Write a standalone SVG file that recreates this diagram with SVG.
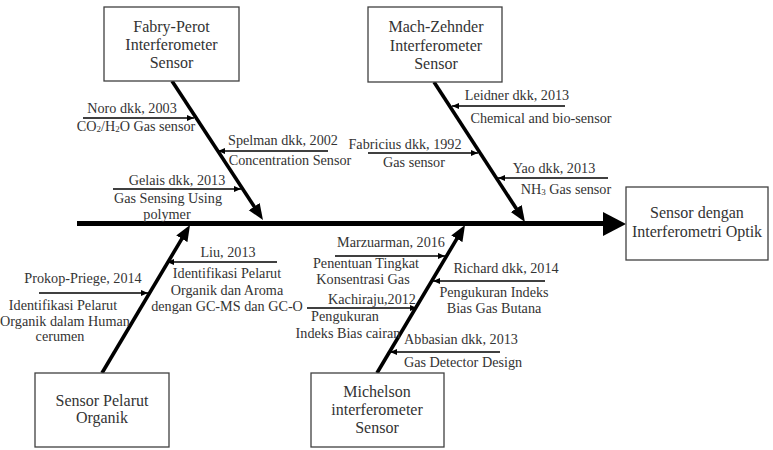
<svg xmlns="http://www.w3.org/2000/svg" width="773" height="450" viewBox="0 0 773 450">
<style>
.box{fill:#fff;stroke:#404040;stroke-width:1.3}
.bt{font-family:"Liberation Serif","Times New Roman",serif;font-size:16px;fill:#333;text-anchor:middle}
.t{font-family:"Liberation Serif","Times New Roman",serif;font-size:14.2px;fill:#333;text-anchor:middle}
.bone{stroke:#000;stroke-width:3.6;fill:none;marker-end:url(#big)}
.sm{stroke:#000;stroke-width:1.3;fill:none;marker-end:url(#small)}
</style>
<defs>
<marker id="big" markerUnits="userSpaceOnUse" markerWidth="17" markerHeight="14" refX="6" refY="6.5" orient="auto" viewBox="0 0 17 13">
<path d="M0,0 L16,6.5 L0,13 z" fill="#000"/>
</marker>
<marker id="small" markerUnits="userSpaceOnUse" markerWidth="8" markerHeight="7" refX="7" refY="3" orient="auto" viewBox="0 0 8 6">
<path d="M0,0 L7,3 L0,6 z" fill="#000"/>
</marker>
</defs>

<g id="connectors">
<line x1="77" y1="223.5" x2="605" y2="223.5" stroke="#000" stroke-width="5"/>
<polygon points="603,212 626,224 603,236" fill="#000"/>
<line class="bone" x1="172" y1="81" x2="257.5" y2="211.6"/>
<line class="bone" x1="434" y1="82" x2="519.5" y2="213.6"/>
<line class="bone" x1="102" y1="373" x2="184.9" y2="233.6"/>
<line class="bone" x1="377" y1="373" x2="459.9" y2="233.6"/>
<line class="sm" x1="83" y1="118" x2="194" y2="118"/>
<line class="sm" x1="328" y1="151" x2="218" y2="151"/>
<line class="sm" x1="113" y1="189" x2="241" y2="189"/>
<line class="sm" x1="565" y1="106" x2="452" y2="106"/>
<line class="sm" x1="368" y1="153" x2="478" y2="153"/>
<line class="sm" x1="608" y1="178" x2="498" y2="178"/>
<line class="sm" x1="277" y1="262" x2="167" y2="262"/>
<line class="sm" x1="39" y1="293" x2="148" y2="293"/>
<line class="sm" x1="335" y1="256" x2="445" y2="256"/>
<line class="sm" x1="545" y1="281" x2="433" y2="281"/>
<line class="sm" x1="307" y1="308" x2="417" y2="308"/>
<line class="sm" x1="500" y1="352" x2="390" y2="352"/>
</g>

<g id="fabry-perot">
<rect class="box" x="104" y="7" width="135" height="74"/>
<text class="bt" x="171.5" y="32">Fabry-Perot</text>
<text class="bt" x="171.5" y="50">Interferometer</text>
<text class="bt" x="171.5" y="68">Sensor</text>
</g>
<g id="mach-zehnder">
<rect class="box" x="368" y="7" width="134" height="75"/>
<text class="bt" x="436" y="32">Mach-Zehnder</text>
<text class="bt" x="436" y="51">Interferometer</text>
<text class="bt" x="436" y="69">Sensor</text>
</g>
<g id="sensor-pelarut">
<rect class="box" x="35" y="373" width="134" height="74"/>
<text class="bt" x="102" y="406">Sensor Pelarut</text>
<text class="bt" x="102" y="423">Organik</text>
</g>
<g id="michelson">
<rect class="box" x="311" y="373" width="133" height="74"/>
<text class="bt" x="377" y="397">Michelson</text>
<text class="bt" x="377" y="415">interferometer</text>
<text class="bt" x="377" y="433">Sensor</text>
</g>
<g id="sensor-optik">
<rect class="box" x="626" y="187" width="142" height="73"/>
<text class="bt" x="697" y="218">Sensor dengan</text>
<text class="bt" x="697" y="237">Interferometri Optik</text>
</g>

<g id="labels">
<text class="t" x="132" y="113">Noro dkk, 2003</text>
<text class="t" x="136" y="131">CO<tspan font-size="9" dy="1">2</tspan><tspan dy="-1">/H</tspan><tspan font-size="9" dy="1">2</tspan><tspan dy="-1">O Gas sensor</tspan></text>
<text class="t" x="283" y="145">Spelman dkk, 2002</text>
<text class="t" x="290" y="165">Concentration Sensor</text>
<text class="t" x="177" y="185">Gelais dkk, 2013</text>
<text class="t" x="168" y="203">Gas Sensing Using</text>
<text class="t" x="167" y="218.5">polymer</text>

<text class="t" x="517" y="100">Leidner dkk, 2013</text>
<text class="t" x="541" y="123">Chemical and bio-sensor</text>
<text class="t" x="405" y="149">Fabricius dkk, 1992</text>
<text class="t" x="414" y="167">Gas sensor</text>
<text class="t" x="554" y="173">Yao dkk, 2013</text>
<text class="t" x="566" y="194">NH<tspan font-size="9" dy="1">3</tspan><tspan dy="-1">  Gas sensor</tspan></text>

<text class="t" x="228" y="257">Liu, 2013</text>
<text class="t" x="227" y="278">Identifikasi Pelarut</text>
<text class="t" x="227" y="295">Organik dan Aroma</text>
<text class="t" x="227" y="311">dengan GC-MS dan GC-O</text>
<text class="t" x="83" y="283">Prokop-Priege, 2014</text>
<text class="t" x="63" y="310">Identifikasi Pelarut</text>
<text class="t" x="65" y="326">Organik dalam Human</text>
<text class="t" x="60" y="341">cerumen</text>

<text class="t" x="391" y="247">Marzuarman, 2016</text>
<text class="t" x="366" y="268">Penentuan Tingkat</text>
<text class="t" x="363" y="284">Konsentrasi Gas</text>
<text class="t" x="506" y="273">Richard dkk, 2014</text>
<text class="t" x="494" y="297">Pengukuran Indeks</text>
<text class="t" x="494" y="313">Bias Gas Butana</text>
<text class="t" x="372" y="304">Kachiraju,2012</text>
<text class="t" x="345" y="321">Pengukuran</text>
<text class="t" x="348" y="338">Indeks Bias cairan</text>
<text class="t" x="461" y="344">Abbasian dkk, 2013</text>
<text class="t" x="463" y="367">Gas Detector Design</text>
</g>
</svg>
